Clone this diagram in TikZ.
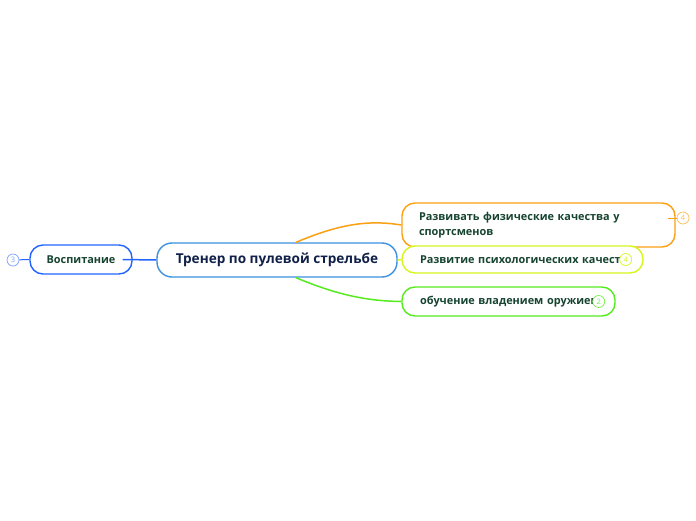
\documentclass[tikz,border=0pt]{standalone}
\usepackage{fontspec}
\setmainfont{Open Sans}
\usetikzlibrary{positioning}
\definecolor{orng}{RGB}{250,160,20}
\definecolor{yelw}{RGB}{215,245,30}
\definecolor{grn}{RGB}{85,235,30}
\definecolor{blu}{RGB}{35,100,255}
\definecolor{topicblue}{RGB}{60,145,225}
\definecolor{txtgreen}{RGB}{22,68,48}
\definecolor{txtnavy}{RGB}{16,32,72}
\tikzset{
  topic/.style={draw=topicblue,line width=1.4pt,fill=white,rounded corners=15pt,
    minimum width=240pt,minimum height=34pt,inner sep=0pt,text=txtnavy,
    font=\fontsize{13.6}{15}\selectfont\bfseries},
  branch/.style={draw=#1,line width=1.4pt,fill=white,rounded corners=13pt,
    inner sep=0pt,text=txtgreen,font=\fontsize{10.9}{15}\selectfont\bfseries},
  num/.style={draw=#1,circle,fill=white,line width=0.7pt,minimum size=12pt,inner sep=0pt,
    text=#1,font=\fontsize{7.5}{7.5}\selectfont},
  link/.style={draw=#1,line width=1.5pt}
}
\begin{document}
\begin{tikzpicture}[x=1pt,y=-1pt]
\useasboundingbox (0,0) rectangle (696,520);
%topic
\node[topic] (tr) at (277,260) {Тренер по пулевой стрельбе};
%left
\node[branch=blu,minimum width=102pt,minimum height=29pt] (vo) at (81,259.5) {Воспитание};
\node[num=blu!60] (n3) at (13,260) {3};
\draw[link=blu] ([xshift=-10pt]vo.east) -- (tr.west);
\draw[link=blu,line width=1pt] (n3) -- (vo.west);
%right 1
\node[branch=orng,minimum width=273pt,minimum height=44pt,text width=239pt,
  align=left,inner xsep=17pt] (fiz) at (538.5,225) {Развивать физические качества у\\спортсменов};
\node[num=orng!70] (n4a) at (683,218) {4};
\draw[link=orng,line width=1pt] (668,218) -- (n4a);
\draw[link=orng] ([xshift=19pt]tr.north) .. controls (335,226) and (365,219) .. (fiz.west);
%right 2
\node[branch=yelw,minimum width=241pt,minimum height=27pt,text width=223pt,
  align=left,inner xsep=9pt] (psi) at (522.5,259.5) {\hspace{9pt}Развитие психологических качест};
\node[num=yelw] (n4b) at ([xshift=-18pt]psi.east) {4};
\draw[link=yelw] (tr.east) -- (psi.west);
%right 3
\node[branch=grn,minimum width=213pt,minimum height=29pt,text width=195pt,
  align=left,inner xsep=9pt] (obu) at (508.5,301.5) {\hspace{9pt}обучение владением оружием};
\node[num=grn!80] (n2) at ([xshift=-17pt]obu.east) {2};
\draw[link=grn] ([xshift=19pt]tr.south) .. controls (335,294) and (365,301) .. (obu.west);
\end{tikzpicture}
\end{document}
